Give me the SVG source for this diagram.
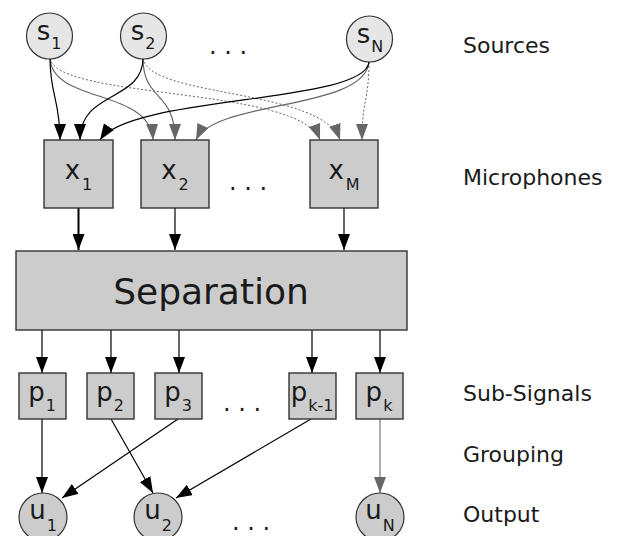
<svg xmlns="http://www.w3.org/2000/svg" width="617" height="536" viewBox="0 0 617 536">
  <style>
    text { font-family: "DejaVu Sans", "Liberation Sans", sans-serif; fill: #1a1a1a; }
    .src { fill: #e6e6e6; stroke: #333; stroke-width: 1.2; }
    .box { fill: #cccccc; stroke: #333; stroke-width: 1.4; }
    .out { fill: #cccccc; stroke: #333; stroke-width: 1.2; }
    .lbl { font-size: 26px; text-anchor: middle; }
    .sub { font-size: 16px; }
    .dots { font-size: 24px; text-anchor: middle; }
    .layer { font-size: 22px; }
    .blk { fill: none; stroke: #000; stroke-width: 1.2; marker-end: url(#ah); }
    .gry { fill: none; stroke: #666; stroke-width: 1.2; marker-end: url(#ahg); }
    .dot { fill: none; stroke: #666; stroke-width: 1; stroke-dasharray: 2 2; marker-end: url(#ahg); }
  </style>
  <defs>
    <marker id="ah" markerUnits="userSpaceOnUse" viewBox="0 0 16 12" refX="16" refY="6" markerWidth="16" markerHeight="12" orient="auto">
      <path d="M0,0 L16,6 L0,12 z" fill="#000"/>
    </marker>
    <marker id="ahg" markerUnits="userSpaceOnUse" viewBox="0 0 16 12" refX="16" refY="6" markerWidth="16" markerHeight="12" orient="auto">
      <path d="M0,0 L16,6 L0,12 z" fill="#666"/>
    </marker>
  </defs>

  <!-- connectors -->
  <g id="connectors">
    <!-- sources to microphones -->
    <path class="dot" d="M50,58 C56,100 300,86 320,140"/>
    <path class="dot" d="M143,58 C148,98 322,88 340,140"/>
    <path class="dot" d="M369,62 C369,100 362,100 362,140"/>
    <path class="gry" d="M50,58 C52,104 150,88 153,140"/>
    <path class="gry" d="M143,58 C143,102 175,90 175,140"/>
    <path class="gry" d="M369,62 C365,110 215,100 196,140"/>
    <path class="blk" d="M50,58 C50,95 60,100 60,140"/>
    <path class="blk" d="M143,58 C143,102 80,90 80,140"/>
    <path class="blk" d="M369,62 C365,104 130,95 100,140"/>
    <!-- microphones to separation -->
    <path class="blk" d="M78.5,208 L78.5,250" style="stroke-width:2"/>
    <path class="blk" d="M175,208 L175,250"/>
    <path class="blk" d="M344,208 L344,250"/>
    <!-- separation to sub-signals -->
    <path class="blk" d="M42,330 L42,373"/>
    <path class="blk" d="M111,330 L111,373"/>
    <path class="blk" d="M179,330 L179,373"/>
    <path class="blk" d="M312,330 L312,373"/>
    <path class="blk" d="M380,330 L380,373"/>
    <!-- grouping -->
    <path class="blk" d="M42,419 L42,493"/>
    <path class="blk" d="M111,419 L153,493"/>
    <path class="blk" d="M178,419 L62,498"/>
    <path class="blk" d="M311,419 L176,498"/>
    <path class="gry" d="M380,419 L380,493" style="stroke:#777"/>
  </g>

  <!-- sources -->
  <g id="s1"><circle class="src" cx="49.5" cy="36" r="23"/><text class="lbl" x="49" y="40">s<tspan class="sub" dx="1" dy="9">1</tspan></text></g>
  <g id="s2"><circle class="src" cx="143.5" cy="36" r="23"/><text class="lbl" x="143" y="40">s<tspan class="sub" dx="1" dy="9">2</tspan></text></g>
  <g id="sN"><circle class="src" cx="369.5" cy="39" r="23"/><text class="lbl" x="370" y="43">s<tspan class="sub" dx="1" dy="9">N</tspan></text></g>
  <text class="dots" x="228" y="54">. . .</text>

  <!-- microphones -->
  <g id="x1"><rect class="box" x="44" y="140" width="69" height="68"/><text class="lbl" x="78.5" y="179">x<tspan class="sub" dx="2" dy="11">1</tspan></text></g>
  <g id="x2"><rect class="box" x="141" y="140" width="68" height="68"/><text class="lbl" x="175" y="179">x<tspan class="sub" dx="2" dy="11">2</tspan></text></g>
  <g id="xM"><rect class="box" x="310" y="140" width="68" height="68"/><text class="lbl" x="344" y="179">x<tspan class="sub" dx="2" dy="11">M</tspan></text></g>
  <text class="dots" x="248" y="190">. . .</text>

  <!-- separation -->
  <g id="separation"><rect class="box" x="16" y="251" width="391" height="79"/><text x="211" y="304" style="font-size:36px;text-anchor:middle">Separation</text></g>

  <!-- sub-signals -->
  <g id="p1"><rect class="box" x="19" y="373" width="47" height="46"/><text class="lbl" x="42" y="401">p<tspan class="sub" dx="1" dy="10">1</tspan></text></g>
  <g id="p2"><rect class="box" x="87" y="373" width="47" height="46"/><text class="lbl" x="110" y="401">p<tspan class="sub" dx="1" dy="10">2</tspan></text></g>
  <g id="p3"><rect class="box" x="155" y="373" width="47" height="46"/><text class="lbl" x="178" y="401">p<tspan class="sub" dx="1" dy="10">3</tspan></text></g>
  <g id="pk-1"><rect class="box" x="289" y="373" width="47" height="46"/><text class="lbl" x="312" y="401">p<tspan class="sub" dx="1" dy="10">k-1</tspan></text></g>
  <g id="pk"><rect class="box" x="356" y="373" width="47" height="46"/><text class="lbl" x="379" y="401">p<tspan class="sub" dx="1" dy="10">k</tspan></text></g>
  <text class="dots" x="242" y="411">. . .</text>

  <!-- outputs -->
  <g id="u1"><circle class="out" cx="43" cy="517" r="24"/><text class="lbl" x="43" y="519">u<tspan class="sub" dx="1" dy="12">1</tspan></text></g>
  <g id="u2"><circle class="out" cx="158" cy="517" r="24"/><text class="lbl" x="158" y="519">u<tspan class="sub" dx="1" dy="12">2</tspan></text></g>
  <g id="uN"><circle class="out" cx="380" cy="517" r="24"/><text class="lbl" x="380" y="519">u<tspan class="sub" dx="1" dy="12">N</tspan></text></g>
  <text class="dots" x="251" y="530">. . .</text>

  <!-- layer captions -->
  <g id="captions">
    <text class="layer" x="463" y="53">Sources</text>
    <text class="layer" x="463" y="185">Microphones</text>
    <text class="layer" x="463" y="401">Sub-Signals</text>
    <text class="layer" x="463" y="462">Grouping</text>
    <text class="layer" x="463" y="522">Output</text>
  </g>
</svg>
